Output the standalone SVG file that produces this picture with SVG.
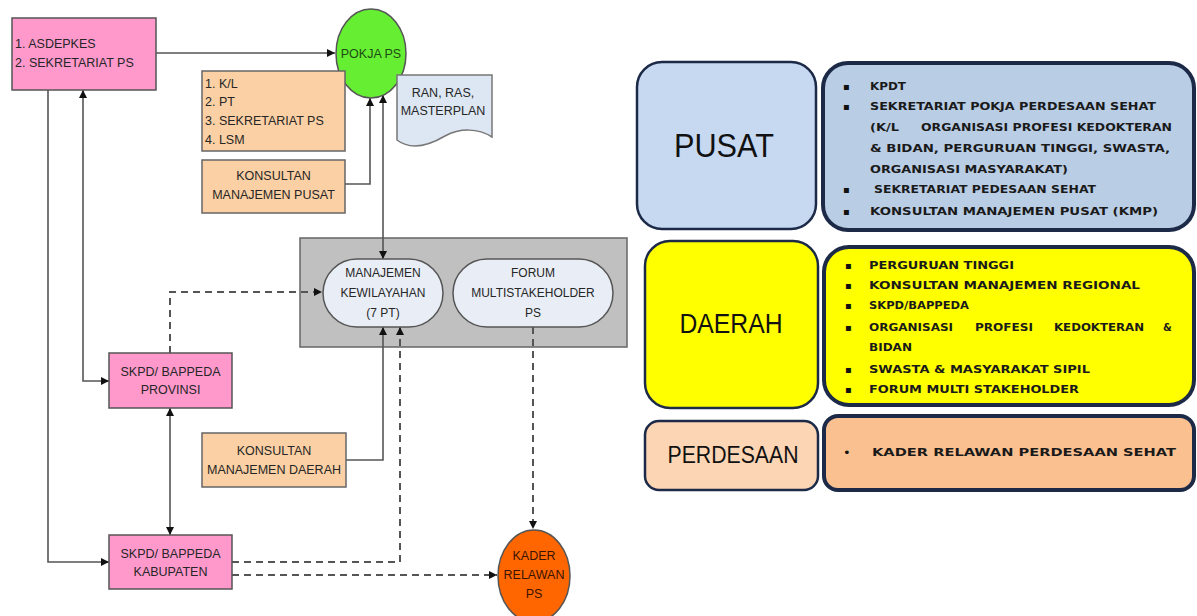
<svg xmlns="http://www.w3.org/2000/svg" width="1197" height="616" viewBox="0 0 1197 616">
<style>
.t{font-family:"Liberation Sans",Arial,sans-serif;font-size:12.5px;fill:#262626}
.tc{font-family:"Liberation Sans",Arial,sans-serif;font-size:12.5px;fill:#262626;text-anchor:middle}
.pink{fill:#ff99cc;stroke:#555;stroke-width:1.5}
.org{fill:#fbd0a4;stroke:#666;stroke-width:1.5}
.pill{fill:#e9eef6;stroke:#555;stroke-width:1.5}
.ln{fill:none;stroke:#555;stroke-width:1.6}
.ds{fill:none;stroke:#555;stroke-width:2;stroke-dasharray:7 5}
.big{font-family:"Liberation Sans",Arial,sans-serif;fill:#111;text-anchor:middle}
.b{font-family:"DejaVu Sans",Verdana,sans-serif;font-size:10px;font-weight:bold;fill:#1a1a1a}
.bl{font-family:"DejaVu Sans",Verdana,sans-serif;font-size:10px;fill:#111}
.lb{stroke:#1c2a48;stroke-width:2.5}
.cb{stroke:#1c2a48;stroke-width:4}
</style>
<defs>
<marker id="ah" viewBox="0 0 10 10" refX="10" refY="5" markerWidth="8" markerHeight="8" markerUnits="userSpaceOnUse" orient="auto-start-reverse">
<path d="M0,0 L10,5 L0,10 z" fill="#111"/>
</marker>
</defs>

<g id="container-manajemen">
<rect x="300" y="238" width="327" height="109" fill="#c0c0c0" stroke="#666" stroke-width="1.5"/>
</g>

<g id="connectors">
<path class="ln" d="M156,53 H335" marker-end="url(#ah)"/>
<path class="ln" d="M48,90 V562 H109" marker-end="url(#ah)"/>
<path class="ln" d="M83,90 V381 H109" marker-start="url(#ah)" marker-end="url(#ah)"/>
<path class="ln" d="M170,408 V535" marker-start="url(#ah)" marker-end="url(#ah)"/>
<path class="ln" d="M345,184 H370 V98" marker-end="url(#ah)"/>
<path class="ln" d="M383,95 V259" marker-start="url(#ah)" marker-end="url(#ah)"/>
<path class="ln" d="M346,460 H383 V327" marker-end="url(#ah)"/>
<path class="ds" d="M170,353 V292 H322" marker-end="url(#ah)"/>
<path class="ds" d="M232,562 H400 V327" marker-end="url(#ah)"/>
<path class="ds" d="M232,575 H497" marker-end="url(#ah)"/>
<path class="ds" d="M533,327 V529" marker-end="url(#ah)"/>
</g>

<g id="asdepkes">
<rect class="pink" x="12" y="18" width="144" height="72"/>
<text class="t" x="15" y="48">1. ASDEPKES</text>
<text class="t" x="15" y="67">2. SEKRETARIAT PS</text>
</g>

<g id="pokja-ps">
<ellipse cx="371" cy="53.5" rx="35" ry="44.5" fill="#66ee33" stroke="#555" stroke-width="1.5"/>
<text class="tc" x="371" y="58" style="fill:#1e4d14">POKJA PS</text>
</g>

<g id="kl-pt">
<rect class="org" x="202" y="71" width="143" height="80"/>
<text class="t" x="205" y="88">1. K/L</text>
<text class="t" x="205" y="106">2. PT</text>
<text class="t" x="205" y="125">3. SEKRETARIAT PS</text>
<text class="t" x="205" y="144">4. LSM</text>
</g>

<g id="konsultan-pusat">
<rect class="org" x="202" y="160" width="143" height="53"/>
<text class="tc" x="273.5" y="180">KONSULTAN</text>
<text class="tc" x="273.5" y="199">MANAJEMEN PUSAT</text>
</g>

<g id="ran-ras">
<path d="M397,75 H492 V137 C478,128 460,128 445,136 C428,146 410,150 397,140 Z" fill="#dde7f3" stroke="#777" stroke-width="1.5"/>
<text class="tc" x="443" y="97">RAN, RAS,</text>
<text class="tc" x="443" y="115">MASTERPLAN</text>
</g>

<g id="manajemen-kewilayahan">
<rect class="pill" x="323" y="259" width="120" height="68" rx="34" ry="34"/>
<text class="tc" x="383" y="277" style="font-size:12px">MANAJEMEN</text>
<text class="tc" x="383" y="297" style="font-size:12px">KEWILAYAHAN</text>
<text class="tc" x="383" y="317" style="font-size:12px">(7 PT)</text>
</g>

<g id="forum-multistakeholder">
<rect class="pill" x="453" y="259" width="160" height="68" rx="34" ry="34"/>
<text class="tc" x="533" y="277" style="font-size:12px">FORUM</text>
<text class="tc" x="533" y="297" style="font-size:12px">MULTISTAKEHOLDER</text>
<text class="tc" x="533" y="317" style="font-size:12px">PS</text>
</g>

<g id="skpd-provinsi">
<rect class="pink" x="109" y="353" width="123" height="55"/>
<text class="tc" x="170.5" y="376">SKPD/ BAPPEDA</text>
<text class="tc" x="170.5" y="394">PROVINSI</text>
</g>

<g id="konsultan-daerah">
<rect class="org" x="202" y="433" width="144" height="54"/>
<text class="tc" x="274" y="455">KONSULTAN</text>
<text class="tc" x="274" y="474">MANAJEMEN DAERAH</text>
</g>

<g id="skpd-kabupaten">
<rect class="pink" x="109" y="535" width="123" height="54"/>
<text class="tc" x="170.5" y="558">SKPD/ BAPPEDA</text>
<text class="tc" x="170.5" y="576">KABUPATEN</text>
</g>

<g id="kader-relawan">
<ellipse cx="534" cy="576" rx="36" ry="46" fill="#ff6600" stroke="#555" stroke-width="1.5"/>
<text class="tc" x="534" y="560" style="fill:#3a1400">KADER</text>
<text class="tc" x="534" y="579" style="fill:#3a1400">RELAWAN</text>
<text class="tc" x="534" y="598" style="fill:#3a1400">PS</text>
</g>

<g id="pusat-label">
<rect class="lb" x="637" y="62" width="179" height="167" rx="25" fill="#c6d9f1"/>
<text class="big" x="724" y="157" style="font-size:34px" textLength="100" lengthAdjust="spacingAndGlyphs">PUSAT</text>
</g>

<g id="pusat-isi">
<rect class="cb" x="823" y="63" width="371" height="167" rx="25" fill="#b9cde5"/>
<text class="bl" x="843" y="90">▪</text>
<text class="b" x="870" y="90" textLength="36" lengthAdjust="spacingAndGlyphs">KPDT</text>
<text class="bl" x="843" y="110">▪</text>
<text class="b" x="870" y="110" textLength="286" lengthAdjust="spacingAndGlyphs">SEKRETARIAT POKJA PERDESAAN SEHAT</text>
<text class="b" x="870" y="131" textLength="29" lengthAdjust="spacingAndGlyphs">(K/L</text>
<text class="b" x="921" y="131" textLength="251" lengthAdjust="spacingAndGlyphs">ORGANISASI PROFESI KEDOKTERAN</text>
<text class="b" x="870" y="152" textLength="300" lengthAdjust="spacingAndGlyphs">&amp; BIDAN, PERGURUAN TINGGI, SWASTA,</text>
<text class="b" x="870" y="173" textLength="198" lengthAdjust="spacingAndGlyphs">ORGANISASI MASYARAKAT)</text>
<text class="bl" x="843" y="193">▪</text>
<text class="b" x="874" y="193" textLength="222" lengthAdjust="spacingAndGlyphs">SEKRETARIAT PEDESAAN  SEHAT</text>
<text class="bl" x="843" y="215">▪</text>
<text class="b" x="870" y="215" textLength="288" lengthAdjust="spacingAndGlyphs">KONSULTAN MANAJEMEN PUSAT (KMP)</text>
</g>

<g id="daerah-label">
<rect class="lb" x="645" y="241" width="173" height="167" rx="25" fill="#ffff00"/>
<text class="big" x="731" y="333" style="font-size:27px" textLength="103" lengthAdjust="spacingAndGlyphs">DAERAH</text>
</g>

<g id="daerah-isi">
<rect class="cb" x="824" y="247" width="370" height="158" rx="25" fill="#ffff00"/>
<text class="bl" x="845" y="269">▪</text>
<text class="b" x="869" y="269" textLength="145" lengthAdjust="spacingAndGlyphs">PERGURUAN TINGGI</text>
<text class="bl" x="845" y="289">▪</text>
<text class="b" x="869" y="289" textLength="271" lengthAdjust="spacingAndGlyphs">KONSULTAN MANAJEMEN REGIONAL</text>
<text class="bl" x="845" y="309">▪</text>
<text class="b" x="869" y="309" textLength="100" lengthAdjust="spacingAndGlyphs">SKPD/BAPPEDA</text>
<text class="bl" x="845" y="331">▪</text>
<text class="b" x="869" y="331" textLength="84" lengthAdjust="spacingAndGlyphs">ORGANISASI</text>
<text class="b" x="975" y="331" textLength="58" lengthAdjust="spacingAndGlyphs">PROFESI</text>
<text class="b" x="1054" y="331" textLength="90" lengthAdjust="spacingAndGlyphs">KEDOKTERAN</text>
<text class="b" x="1163" y="331">&amp;</text>
<text class="b" x="869" y="351" textLength="43" lengthAdjust="spacingAndGlyphs">BIDAN</text>
<text class="bl" x="845" y="373">▪</text>
<text class="b" x="869" y="373" textLength="221" lengthAdjust="spacingAndGlyphs">SWASTA &amp; MASYARAKAT SIPIL</text>
<text class="bl" x="845" y="393">▪</text>
<text class="b" x="869" y="393" textLength="210" lengthAdjust="spacingAndGlyphs">FORUM MULTI STAKEHOLDER</text>
</g>

<g id="perdesaan-label">
<rect class="lb" x="645" y="421" width="173" height="69" rx="14" fill="#fcd5b4"/>
<text class="big" x="733" y="463" style="font-size:24px" textLength="131" lengthAdjust="spacingAndGlyphs">PERDESAAN</text>
</g>

<g id="perdesaan-isi">
<rect class="cb" x="824" y="416" width="370" height="74" rx="14" fill="#fac090"/>
<text class="bl" x="843" y="457" style="font-size:13px">•</text>
<text class="b" x="872" y="456" textLength="304" lengthAdjust="spacingAndGlyphs">KADER RELAWAN PERDESAAN SEHAT</text>
</g>
</svg>
